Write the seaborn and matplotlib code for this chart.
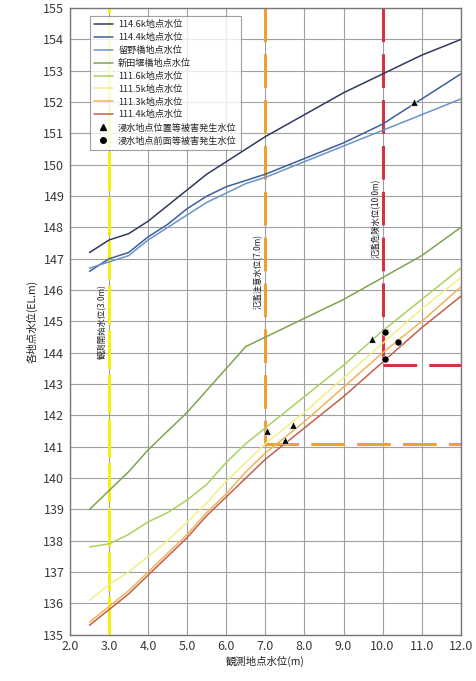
import numpy as np
import pandas as pd
import matplotlib
matplotlib.use("Agg")
import matplotlib.pyplot as plt
import seaborn as sns

# observation-station stage (m) at which each series is sampled
stage = [2.5, 3.0, 3.5, 4.0, 4.5, 5.0, 5.5, 6.0, 6.5, 7.0, 8.0, 9.0, 10.0, 11.0, 12.0]

series_names = ["114.6k地点水位", "114.4k地点水位", "留野橋地点水位", "新田堰橋地点水位",
                "111.6k地点水位", "111.5k地点水位", "111.3k地点水位", "111.4k地点水位"]

lv_1146 = [147.2, 147.6, 147.8, 148.2, 148.7, 149.2, 149.7, 150.1, 150.5, 150.9, 151.6, 152.3, 152.9, 153.5, 154.0]
lv_1144 = [146.6, 147.0, 147.2, 147.7, 148.1, 148.6, 149.0, 149.3, 149.5, 149.7, 150.2, 150.7, 151.3, 152.1, 152.9]
lv_tomeno = [146.7, 146.9, 147.1, 147.6, 148.0, 148.4, 148.8, 149.1, 149.4, 149.6, 150.1, 150.6, 151.1, 151.6, 152.1]
lv_nitta = [139.0, 139.6, 140.2, 140.9, 141.5, 142.1, 142.8, 143.5, 144.2, 144.5, 145.1, 145.7, 146.4, 147.1, 148.0]
lv_1116 = [137.8, 137.9, 138.2, 138.6, 138.9, 139.3, 139.8, 140.5, 141.1, 141.6, 142.6, 143.6, 144.7, 145.7, 146.7]
lv_1115 = [136.1, 136.6, 137.0, 137.5, 138.0, 138.6, 139.2, 139.9, 140.5, 141.1, 142.1, 143.2, 144.3, 145.4, 146.4]
lv_1113 = [135.4, 135.9, 136.4, 137.0, 137.6, 138.2, 138.9, 139.5, 140.2, 140.8, 141.8, 142.9, 144.0, 145.0, 146.1]
lv_1114 = [135.3, 135.8, 136.3, 136.9, 137.5, 138.1, 138.8, 139.4, 140.0, 140.6, 141.6, 142.6, 143.7, 144.8, 145.8]

series_values = [lv_1146, lv_1144, lv_tomeno, lv_nitta, lv_1116, lv_1115, lv_1113, lv_1114]
series_colors = ["#2d3a5c", "#3d5e9e", "#6b93c8", "#7ea452", "#a9d15e", "#f2ef86", "#f0b455", "#c2604e"]

# damage-onset points
tri_label = "浸水地点位置等被害発生水位"
dot_label = "浸水地点前面等被害発生水位"
tri_x = [7.05, 7.5, 7.7, 9.72, 10.8]
tri_y = [141.5, 141.2, 141.7, 144.45, 152.0]
dot_x = [10.06, 10.4, 10.06]
dot_y = [144.65, 144.35, 143.8]

# reference stages
ref_stage = [3.0, 7.0, 10.0]
ref_level = [None, 141.1, 143.6]
ref_text = ["観測開始水位(3.0m)", "氾濫注意水位(7.0m)", "氾濫危険水位(10.0m)"]
ref_text_y = [145.0, 146.6, 148.3]
ref_colors = ["#f4f000", "#f0a030", "#d23444"]

x_ticks = [2.0, 3.0, 4.0, 5.0, 6.0, 7.0, 8.0, 9.0, 10.0, 11.0, 12.0]
y_ticks = list(range(135, 156))

sns.set_theme(style="white")
plt.rcParams["font.family"] = ["Noto Sans CJK JP", "DejaVu Sans"]

df = pd.DataFrame({
    "stage": np.tile(stage, len(series_names)),
    "level": np.concatenate(series_values),
    "series": np.repeat(series_names, len(stage)),
})

fig = plt.figure(figsize=(4.76, 6.81), dpi=100)
ax = fig.add_axes([0.147, 0.068, 0.821, 0.920])

ax.set_xlim(2.0, 12.0)
ax.set_ylim(135, 155)
ax.set_xticks(x_ticks)
ax.set_xticklabels([f"{v:.1f}" for v in x_ticks])
ax.set_yticks(y_ticks)
ax.grid(True, color="#a0a0a0", linewidth=0.8)
ax.set_axisbelow(True)

# reference lines
ax.axvline(ref_stage[0], color=ref_colors[0], lw=2.0, ls=(0, (14, 2)), zorder=2)
for xs, lv, c in zip(ref_stage[1:], ref_level[1:], ref_colors[1:]):
    ax.plot([xs, xs], [155, lv], color=c, lw=2.2, ls=(0, (11, 4)), zorder=2)
    ax.plot([xs, 12.0], [lv, lv], color=c, lw=2.2, ls=(0, (11, 4)), zorder=2)
for xs, ty, t in zip(ref_stage, ref_text_y, ref_text):
    ax.text(xs - 0.17, ty, t, rotation=90, ha="center", va="center",
            fontsize=6, color="#222222", zorder=3)

sns.lineplot(data=df, x="stage", y="level", hue="series", hue_order=series_names,
             palette=dict(zip(series_names, series_colors)), linewidth=1.1,
             ax=ax, legend=False, zorder=4)
sns.scatterplot(x=tri_x, y=tri_y, marker="^", color="black", s=28, ax=ax, zorder=5)
sns.scatterplot(x=dot_x, y=dot_y, marker="o", color="black", s=26, ax=ax, zorder=5)

handles = [plt.Line2D([], [], color=c, lw=1.1) for c in series_colors]
handles += [plt.Line2D([], [], color="black", marker="^", ls="", ms=4),
            plt.Line2D([], [], color="black", marker="o", ls="", ms=4)]
labels = series_names + [tri_label, dot_label]
leg = ax.legend(handles, labels, loc="upper left", bbox_to_anchor=(0.04, 0.995),
                fontsize=6.6, frameon=True, fancybox=False, handlelength=2.0,
                borderpad=0.45, labelspacing=0.42, handletextpad=0.6)
leg.get_frame().set_edgecolor("#888888")
leg.get_frame().set_linewidth(0.8)
leg.set_zorder(6)

ax.tick_params(axis="both", labelsize=9, colors="#3a3a3a", length=0, pad=4)
ax.set_xlabel("観測地点水位(m)", fontsize=7.5, color="#222222", labelpad=2)
ax.set_ylabel("各地点水位(EL.m)", fontsize=7.5, color="#222222", labelpad=4)
for s in ax.spines.values():
    s.set_color("#777777")
    s.set_linewidth(1.0)

fig.savefig("out.png", dpi=100)
